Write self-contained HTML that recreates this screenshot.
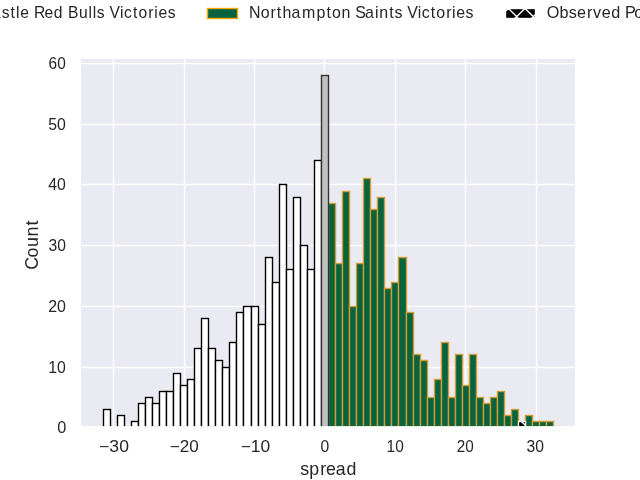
<!DOCTYPE html>
<html><head><meta charset="utf-8"><style>html,body{margin:0;padding:0;background:#fff;width:640px;height:480px;overflow:hidden}svg{display:block;will-change:transform}</style></head>
<body><svg width="640" height="480" viewBox="0 0 640 480">
<rect width="640" height="480" fill="#FFFFFF"/>
<rect x="80" y="58" width="496" height="369" fill="#EAEAF2"/>
<rect x="112.806" y="58" width="1.389" height="369" fill="#FFFFFF"/><rect x="183.806" y="58" width="1.389" height="369" fill="#FFFFFF"/><rect x="253.806" y="58" width="1.389" height="369" fill="#FFFFFF"/><rect x="323.806" y="58" width="1.389" height="369" fill="#FFFFFF"/><rect x="394.806" y="58" width="1.389" height="369" fill="#FFFFFF"/><rect x="464.806" y="58" width="1.389" height="369" fill="#FFFFFF"/><rect x="535.806" y="58" width="1.389" height="369" fill="#FFFFFF"/><rect x="80" y="426.806" width="496" height="1.389" fill="#FFFFFF"/><rect x="80" y="366.806" width="496" height="1.389" fill="#FFFFFF"/><rect x="80" y="305.806" width="496" height="1.389" fill="#FFFFFF"/><rect x="80" y="244.806" width="496" height="1.389" fill="#FFFFFF"/><rect x="80" y="183.806" width="496" height="1.389" fill="#FFFFFF"/><rect x="80" y="123.806" width="496" height="1.389" fill="#FFFFFF"/><rect x="80" y="62.806" width="496" height="1.389" fill="#FFFFFF"/>
<clipPath id="cax"><rect x="80" y="58" width="496" height="369"/></clipPath><g clip-path="url(#cax)">
<rect x="102.806" y="408.806" width="8.389" height="19.389" fill="#000000"/><rect x="104.194" y="410.194" width="5.611" height="16.611" fill="#FFFFFF"/>
<rect x="116.806" y="414.806" width="8.389" height="13.389" fill="#000000"/><rect x="118.194" y="416.194" width="5.611" height="10.611" fill="#FFFFFF"/>
<rect x="130.806" y="420.806" width="8.389" height="7.389" fill="#000000"/><rect x="132.194" y="422.194" width="5.611" height="4.611" fill="#FFFFFF"/>
<rect x="137.806" y="402.806" width="8.389" height="25.389" fill="#000000"/><rect x="139.194" y="404.194" width="5.611" height="22.611" fill="#FFFFFF"/>
<rect x="144.806" y="396.806" width="8.389" height="31.389" fill="#000000"/><rect x="146.194" y="398.194" width="5.611" height="28.611" fill="#FFFFFF"/>
<rect x="151.806" y="402.806" width="8.389" height="25.389" fill="#000000"/><rect x="153.194" y="404.194" width="5.611" height="22.611" fill="#FFFFFF"/>
<rect x="158.806" y="390.806" width="8.389" height="37.389" fill="#000000"/><rect x="160.194" y="392.194" width="5.611" height="34.611" fill="#FFFFFF"/>
<rect x="165.806" y="390.806" width="8.389" height="37.389" fill="#000000"/><rect x="167.194" y="392.194" width="5.611" height="34.611" fill="#FFFFFF"/>
<rect x="172.806" y="372.806" width="8.389" height="55.389" fill="#000000"/><rect x="174.194" y="374.194" width="5.611" height="52.611" fill="#FFFFFF"/>
<rect x="179.806" y="384.806" width="8.389" height="43.389" fill="#000000"/><rect x="181.194" y="386.194" width="5.611" height="40.611" fill="#FFFFFF"/>
<rect x="186.806" y="378.806" width="8.389" height="49.389" fill="#000000"/><rect x="188.194" y="380.194" width="5.611" height="46.611" fill="#FFFFFF"/>
<rect x="193.806" y="347.806" width="8.389" height="80.389" fill="#000000"/><rect x="195.194" y="349.194" width="5.611" height="77.611" fill="#FFFFFF"/>
<rect x="200.806" y="317.806" width="8.389" height="110.389" fill="#000000"/><rect x="202.194" y="319.194" width="5.611" height="107.611" fill="#FFFFFF"/>
<rect x="207.806" y="347.806" width="8.389" height="80.389" fill="#000000"/><rect x="209.194" y="349.194" width="5.611" height="77.611" fill="#FFFFFF"/>
<rect x="214.806" y="359.806" width="8.389" height="68.389" fill="#000000"/><rect x="216.194" y="361.194" width="5.611" height="65.611" fill="#FFFFFF"/>
<rect x="221.806" y="366.806" width="8.389" height="61.389" fill="#000000"/><rect x="223.194" y="368.194" width="5.611" height="58.611" fill="#FFFFFF"/>
<rect x="228.806" y="341.806" width="8.389" height="86.389" fill="#000000"/><rect x="230.194" y="343.194" width="5.611" height="83.611" fill="#FFFFFF"/>
<rect x="235.806" y="311.806" width="8.389" height="116.389" fill="#000000"/><rect x="237.194" y="313.194" width="5.611" height="113.611" fill="#FFFFFF"/>
<rect x="242.806" y="305.806" width="9.389" height="122.389" fill="#000000"/><rect x="244.194" y="307.194" width="6.611" height="119.611" fill="#FFFFFF"/>
<rect x="250.806" y="305.806" width="8.389" height="122.389" fill="#000000"/><rect x="252.194" y="307.194" width="5.611" height="119.611" fill="#FFFFFF"/>
<rect x="257.806" y="323.806" width="8.389" height="104.389" fill="#000000"/><rect x="259.194" y="325.194" width="5.611" height="101.611" fill="#FFFFFF"/>
<rect x="264.806" y="256.806" width="8.389" height="171.389" fill="#000000"/><rect x="266.194" y="258.194" width="5.611" height="168.611" fill="#FFFFFF"/>
<rect x="271.806" y="281.806" width="8.389" height="146.389" fill="#000000"/><rect x="273.194" y="283.194" width="5.611" height="143.611" fill="#FFFFFF"/>
<rect x="278.806" y="183.806" width="8.389" height="244.389" fill="#000000"/><rect x="280.194" y="185.194" width="5.611" height="241.611" fill="#FFFFFF"/>
<rect x="285.806" y="268.806" width="8.389" height="159.389" fill="#000000"/><rect x="287.194" y="270.194" width="5.611" height="156.611" fill="#FFFFFF"/>
<rect x="292.806" y="196.806" width="8.389" height="231.389" fill="#000000"/><rect x="294.194" y="198.194" width="5.611" height="228.611" fill="#FFFFFF"/>
<rect x="299.806" y="244.806" width="8.389" height="183.389" fill="#000000"/><rect x="301.194" y="246.194" width="5.611" height="180.611" fill="#FFFFFF"/>
<rect x="306.806" y="268.806" width="8.389" height="159.389" fill="#000000"/><rect x="308.194" y="270.194" width="5.611" height="156.611" fill="#FFFFFF"/>
<rect x="313.806" y="159.806" width="8.389" height="268.389" fill="#000000"/><rect x="315.194" y="161.194" width="5.611" height="265.611" fill="#FFFFFF"/>
<rect x="327.806" y="202.806" width="8.389" height="225.389" fill="#D39B32"/><rect x="329.194" y="204.194" width="5.611" height="222.611" fill="#08643F"/>
<rect x="334.806" y="262.806" width="8.389" height="165.389" fill="#D39B32"/><rect x="336.194" y="264.194" width="5.611" height="162.611" fill="#08643F"/>
<rect x="341.806" y="190.806" width="8.389" height="237.389" fill="#D39B32"/><rect x="343.194" y="192.194" width="5.611" height="234.611" fill="#08643F"/>
<rect x="348.806" y="305.806" width="8.389" height="122.389" fill="#D39B32"/><rect x="350.194" y="307.194" width="5.611" height="119.611" fill="#08643F"/>
<rect x="355.806" y="262.806" width="8.389" height="165.389" fill="#D39B32"/><rect x="357.194" y="264.194" width="5.611" height="162.611" fill="#08643F"/>
<rect x="362.806" y="177.806" width="8.389" height="250.389" fill="#D39B32"/><rect x="364.194" y="179.194" width="5.611" height="247.611" fill="#08643F"/>
<rect x="369.806" y="208.806" width="8.389" height="219.389" fill="#D39B32"/><rect x="371.194" y="210.194" width="5.611" height="216.611" fill="#08643F"/>
<rect x="376.806" y="196.806" width="8.389" height="231.389" fill="#D39B32"/><rect x="378.194" y="198.194" width="5.611" height="228.611" fill="#08643F"/>
<rect x="383.806" y="287.806" width="8.389" height="140.389" fill="#D39B32"/><rect x="385.194" y="289.194" width="5.611" height="137.611" fill="#08643F"/>
<rect x="390.806" y="281.806" width="8.389" height="146.389" fill="#D39B32"/><rect x="392.194" y="283.194" width="5.611" height="143.611" fill="#08643F"/>
<rect x="397.806" y="256.806" width="9.389" height="171.389" fill="#D39B32"/><rect x="399.194" y="258.194" width="6.611" height="168.611" fill="#08643F"/>
<rect x="405.806" y="311.806" width="8.389" height="116.389" fill="#D39B32"/><rect x="407.194" y="313.194" width="5.611" height="113.611" fill="#08643F"/>
<rect x="412.806" y="353.806" width="8.389" height="74.389" fill="#D39B32"/><rect x="414.194" y="355.194" width="5.611" height="71.611" fill="#08643F"/>
<rect x="419.806" y="359.806" width="8.389" height="68.389" fill="#D39B32"/><rect x="421.194" y="361.194" width="5.611" height="65.611" fill="#08643F"/>
<rect x="426.806" y="396.806" width="8.389" height="31.389" fill="#D39B32"/><rect x="428.194" y="398.194" width="5.611" height="28.611" fill="#08643F"/>
<rect x="433.806" y="378.806" width="8.389" height="49.389" fill="#D39B32"/><rect x="435.194" y="380.194" width="5.611" height="46.611" fill="#08643F"/>
<rect x="440.806" y="341.806" width="8.389" height="86.389" fill="#D39B32"/><rect x="442.194" y="343.194" width="5.611" height="83.611" fill="#08643F"/>
<rect x="447.806" y="396.806" width="8.389" height="31.389" fill="#D39B32"/><rect x="449.194" y="398.194" width="5.611" height="28.611" fill="#08643F"/>
<rect x="454.806" y="353.806" width="8.389" height="74.389" fill="#D39B32"/><rect x="456.194" y="355.194" width="5.611" height="71.611" fill="#08643F"/>
<rect x="461.806" y="384.806" width="8.389" height="43.389" fill="#D39B32"/><rect x="463.194" y="386.194" width="5.611" height="40.611" fill="#08643F"/>
<rect x="468.806" y="353.806" width="8.389" height="74.389" fill="#D39B32"/><rect x="470.194" y="355.194" width="5.611" height="71.611" fill="#08643F"/>
<rect x="475.806" y="396.806" width="8.389" height="31.389" fill="#D39B32"/><rect x="477.194" y="398.194" width="5.611" height="28.611" fill="#08643F"/>
<rect x="482.806" y="402.806" width="8.389" height="25.389" fill="#D39B32"/><rect x="484.194" y="404.194" width="5.611" height="22.611" fill="#08643F"/>
<rect x="489.806" y="396.806" width="8.389" height="31.389" fill="#D39B32"/><rect x="491.194" y="398.194" width="5.611" height="28.611" fill="#08643F"/>
<rect x="496.806" y="390.806" width="8.389" height="37.389" fill="#D39B32"/><rect x="498.194" y="392.194" width="5.611" height="34.611" fill="#08643F"/>
<rect x="503.806" y="414.806" width="8.389" height="13.389" fill="#D39B32"/><rect x="505.194" y="416.194" width="5.611" height="10.611" fill="#08643F"/>
<rect x="510.806" y="408.806" width="8.389" height="19.389" fill="#D39B32"/><rect x="512.194" y="410.194" width="5.611" height="16.611" fill="#08643F"/>
<rect x="524.806" y="414.806" width="8.389" height="13.389" fill="#D39B32"/><rect x="526.194" y="416.194" width="5.611" height="10.611" fill="#08643F"/>
<rect x="531.806" y="420.806" width="8.389" height="7.389" fill="#D39B32"/><rect x="533.194" y="422.194" width="5.611" height="4.611" fill="#08643F"/>
<rect x="538.806" y="420.806" width="8.389" height="7.389" fill="#D39B32"/><rect x="540.194" y="422.194" width="5.611" height="4.611" fill="#08643F"/>
<rect x="545.806" y="420.806" width="8.389" height="7.389" fill="#D39B32"/><rect x="547.194" y="422.194" width="5.611" height="4.611" fill="#08643F"/>
<rect x="320.806" y="74.806" width="8.389" height="353.389" fill="#333333"/><rect x="322.194" y="76.194" width="5.611" height="350.611" fill="#C0C0C0"/>
<rect x="517.806" y="420.806" width="8.389" height="7.389" fill="#F8EAD6"/><rect x="519.194" y="422.194" width="5.611" height="4.611" fill="#000000"/>
</g>
<clipPath id="c28"><rect x="518.5" y="421.5" width="7" height="5.5"/></clipPath><path clip-path="url(#c28)" d="M486.167 419.5L495.667 429M502.833 419.5L512.333 429M519.5 419.5L529 429M536.167 419.5L545.667 429M552.833 419.5L562.333 429M497.167 419.5L487.667 429M513.833 419.5L504.333 429M530.5 419.5L521 429M547.167 419.5L537.667 429M563.833 419.5L554.333 429" stroke="#FFFFFF" stroke-width="1.389" fill="none"/>
<rect x="79.132" y="57.132" width="1.736" height="370.736" fill="#FFFFFF"/><rect x="575.132" y="57.132" width="1.736" height="370.736" fill="#FFFFFF"/><rect x="79.132" y="57.132" width="497.736" height="1.736" fill="#FFFFFF"/><rect x="79.132" y="426.132" width="497.736" height="1.736" fill="#FFFFFF"/>
<rect x="206.806" y="7.806" width="31.389" height="11.389" fill="#FFA500"/><rect x="208.194" y="9.194" width="28.611" height="8.611" fill="#08643F"/>
<rect x="505.5" y="8.5" width="30" height="10" fill="#000000"/>
<clipPath id="clh"><rect x="505.5" y="8.5" width="30" height="10"/></clipPath><path clip-path="url(#clh)" d="M473.167 6.5L487.167 20.5M489.833 6.5L503.833 20.5M506.5 6.5L520.5 20.5M523.167 6.5L537.167 20.5M539.833 6.5L553.833 20.5M556.5 6.5L570.5 20.5M476.833 6.5L462.833 20.5M493.5 6.5L479.5 20.5M510.167 6.5L496.167 20.5M526.833 6.5L512.833 20.5M543.5 6.5L529.5 20.5M560.167 6.5L546.167 20.5M576.833 6.5L562.833 20.5" stroke="#FFFFFF" stroke-width="1.389" fill="none"/>
<rect x="504.806" y="7.806" width="31.389" height="1.389" fill="#FFFFFF"/><rect x="504.806" y="17.806" width="31.389" height="1.389" fill="#FFFFFF"/><rect x="504.806" y="7.806" width="1.389" height="11.389" fill="#FFFFFF"/><rect x="534.806" y="7.806" width="1.389" height="11.389" fill="#FFFFFF"/>
<g fill="#262626" font-family="Liberation Sans, sans-serif"><text transform="translate(-49.37 18) scale(0.965 1)" x="0.066 12.234 22.19 34.635 42.977 53.101 61.976 67.768 72.161 81.503 86.443 97.214 106.974 116.602 121.638 132.966 142.92 147.317 151.497 159.56 164.598 175.476 179.583 188.98 194.714 204.927 210.969 215.354 224.879" y="0" font-size="16.2">Newcastle Red Bulls Victories</text><text transform="translate(249 18) scale(0.985 1)" x="-0.053 11.845 21.883 28.217 33.969 43.043 53.731 68.507 78.586 84.161 93.85 103.236 107.77 117.676 127.878 132.268 142.404 147.835 155.816 160.645 171.378 175.355 184.601 190.176 200.214 206.161 210.405 219.749" y="0" font-size="16.2">Northampton Saints Victories</text><text transform="translate(547.1 18) scale(1 1)" x="-0.284 12.463 21.761 29.908 39.816 45.834 54.63 64.058 73.502 77.814 87.199 96.704 100.988 111.005" y="0" font-size="16.2">Observed Point</text><text x="65.723" y="69" font-size="16.789" textLength="17.166" lengthAdjust="spacingAndGlyphs" text-anchor="end">60</text><text x="65.747" y="130" font-size="16.285" textLength="17.6" lengthAdjust="spacingAndGlyphs" text-anchor="end">50</text><text x="65.745" y="190" font-size="16.789" textLength="17.598" lengthAdjust="spacingAndGlyphs" text-anchor="end">40</text><text x="65.982" y="251" font-size="16.285" textLength="17.422" lengthAdjust="spacingAndGlyphs" text-anchor="end">30</text><text x="65.902" y="312" font-size="16.3" textLength="17.774" lengthAdjust="spacingAndGlyphs" text-anchor="end">20</text><text x="65.736" y="373" font-size="16.285" textLength="17.598" lengthAdjust="spacingAndGlyphs" text-anchor="end">10</text><text x="66.251" y="433" font-size="16.3" textLength="9.046" lengthAdjust="spacingAndGlyphs" text-anchor="end">0</text><text x="114.021" y="452" font-size="15.811" textLength="29.845" lengthAdjust="spacingAndGlyphs" text-anchor="middle">−30</text><text x="184.196" y="452" font-size="15.811" textLength="28.956" lengthAdjust="spacingAndGlyphs" text-anchor="middle">−20</text><text x="255.471" y="452" font-size="15.811" textLength="29.547" lengthAdjust="spacingAndGlyphs" text-anchor="middle">−10</text><text x="324.901" y="452" font-size="15.811" textLength="8.735" lengthAdjust="spacingAndGlyphs" text-anchor="middle">0</text><text x="395.144" y="452" font-size="15.811" textLength="17.167" lengthAdjust="spacingAndGlyphs" text-anchor="middle">10</text><text x="465.34" y="452" font-size="16.3" textLength="16.995" lengthAdjust="spacingAndGlyphs" text-anchor="middle">20</text><text x="535.294" y="452" font-size="16.285" textLength="17.422" lengthAdjust="spacingAndGlyphs" text-anchor="middle">30</text><text transform="translate(300.156 475) scale(1.01 1)" x="0.017 9.043 19.849 25.714 35.187 46.014" y="0" font-size="17.6">spread</text><text transform="translate(38.287 244.435) rotate(-90) translate(-24.748 0) scale(1.01 1)" x="-0.69 11.68 21.918 32.447 43.281" y="0" font-size="17.6">Count</text></g>
</svg></body></html>
